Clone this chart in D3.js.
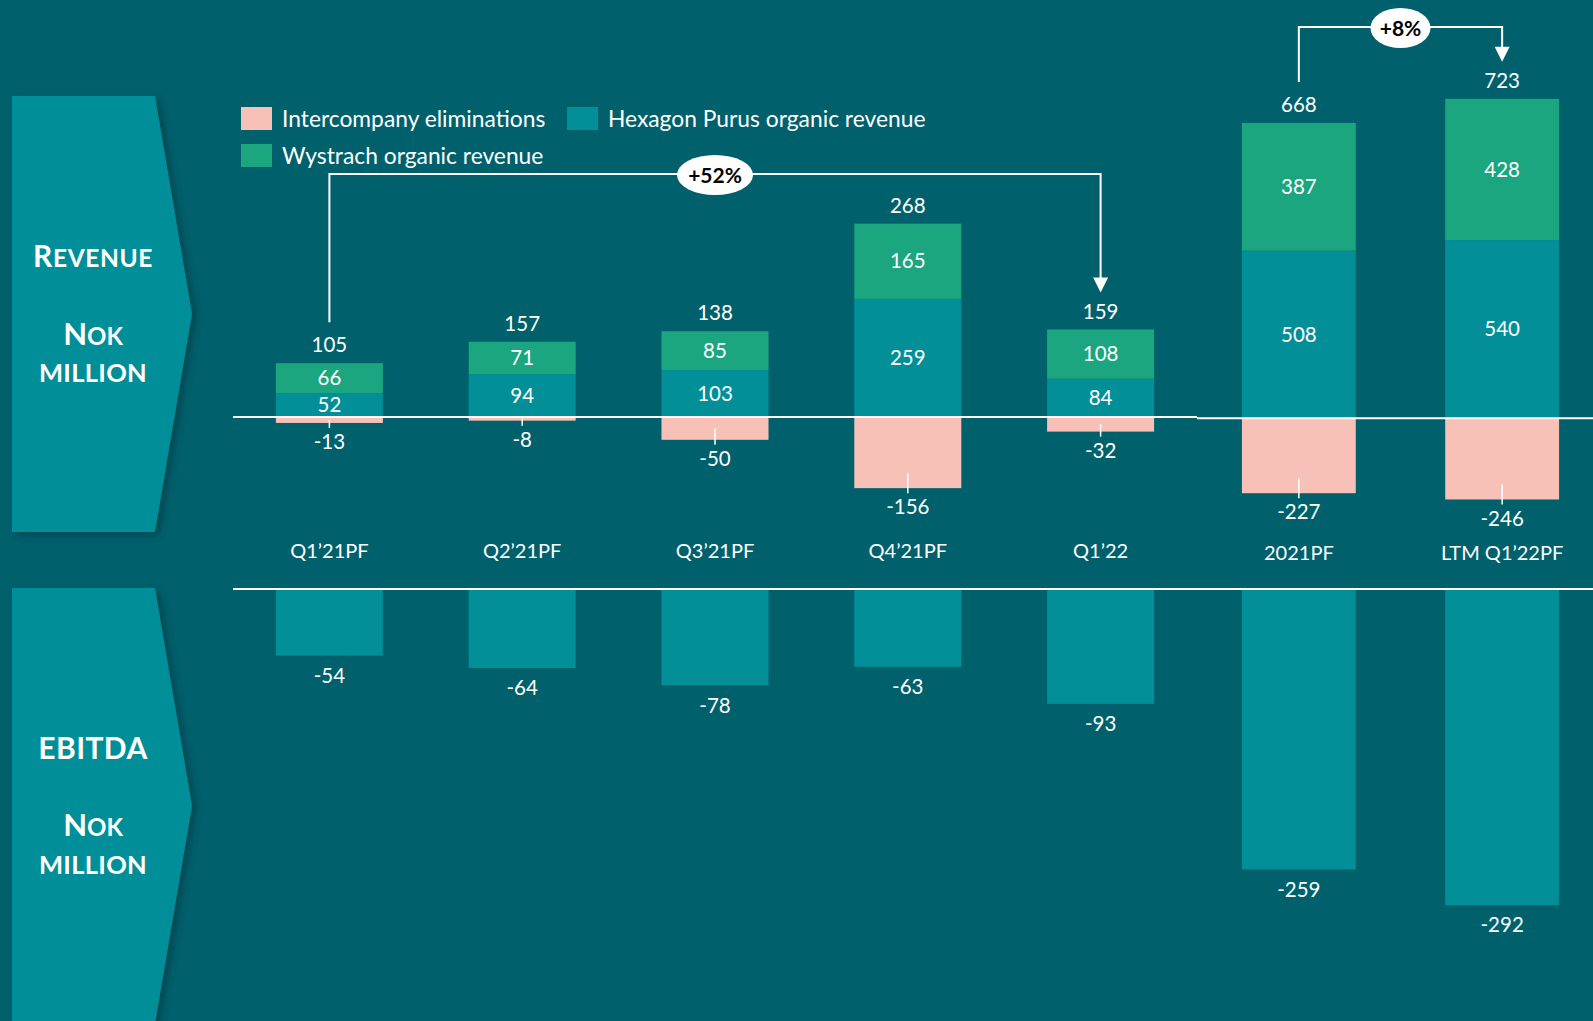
<!DOCTYPE html>
<html>
<head>
<meta charset="utf-8">
<script src="https://cdn.jsdelivr.net/npm/d3@7/dist/d3.min.js"></script>
<style>
  html, body { margin: 0; padding: 0; background: #00616D; }
  svg { display: block; }
  text { font-family: Lato, "Open Sans", sans-serif; fill: #ffffff; }
</style>
</head>
<body>
<svg id="chart" width="1593" height="1021"></svg>
<script>
// ---------- DATA ----------
const quarterCategories = ["Q1’21PF", "Q2’21PF", "Q3’21PF", "Q4’21PF", "Q1’22"];
const annualCategories = ["2021PF", "LTM Q1’22PF"];
const categories = quarterCategories.concat(annualCategories);

const hexagonRevenue = [52, 94, 103, 259, 84, 508, 540];
const wystrachRevenue = [66, 71, 85, 165, 108, 387, 428];
const intercompanyElim = [-13, -8, -50, -156, -32, -227, -246];
const revenueTotals = [105, 157, 138, 268, 159, 668, 723];
const ebitdaValues = [-54, -64, -78, -63, -93, -259, -292];

const seriesNames = ["Intercompany eliminations", "Hexagon Purus organic revenue", "Wystrach organic revenue"];
const growthLabels = [
  { from: "Q1’21PF", to: "Q1’22", text: "+52%" },
  { from: "2021PF", to: "LTM Q1’22PF", text: "+8%" }
];

// ---------- STYLE ----------
const C = {
  bg: "#00616D",
  panel: "#038F98",
  hexagon: "#038F98",
  wystrach: "#1BA680",
  interco: "#F8C1B8",
  white: "#ffffff"
};

const svg = d3.select("#chart");
svg.append("rect").attr("width", 1593).attr("height", 1021).attr("fill", C.bg);

const defs = svg.append("defs");
const f = defs.append("filter").attr("id", "shadow").attr("x", "-20%").attr("y", "-20%").attr("width", "150%").attr("height", "150%");
f.append("feDropShadow").attr("dx", 4).attr("dy", 3).attr("stdDeviation", 4)
  .attr("flood-color", "#00303a").attr("flood-opacity", 0.55);

// ---------- SCALES ----------
const xQ = d3.scaleBand().domain(quarterCategories).range([233, 1197]).paddingInner(0.445).paddingOuter(0.2225);
const xA = d3.scaleBand().domain(annualCategories).range([1197, 1604]).paddingInner(0.44).paddingOuter(0.221);
const isAnnual = c => annualCategories.includes(c);
const xs = c => isAnnual(c) ? xA : xQ;
const xLeft = c => xs(c)(c);
const bw = c => xs(c).bandwidth();
const xMid = c => xLeft(c) + bw(c) / 2;

const revBase = 417;
const revBaseA = 418.3;
const yRevQ = d3.scaleLinear().domain([0, 100]).range([revBase, revBase - 45.6]);
const yRevA = d3.scaleLinear().domain([0, 100]).range([revBaseA, revBaseA - 33.0]);
const yRev = c => isAnnual(c) ? yRevA : yRevQ;

const ebBase = 589;
const yEbQ = d3.scaleLinear().domain([0, -100]).range([ebBase, ebBase + 123.5]);
const yEbA = d3.scaleLinear().domain([0, -100]).range([ebBase, ebBase + 108.3]);
const yEb = c => isAnnual(c) ? yEbA : yEbQ;

// ---------- SIDE PANELS ----------
function panel(top, bottom) {
  const mid = (top + bottom) / 2;
  svg.append("polygon")
    .attr("points", [[12, top], [155, top], [192, mid], [155, bottom], [12, bottom]].map(p => p.join(",")).join(" "))
    .attr("fill", C.panel)
    .attr("filter", "url(#shadow)");
}
panel(96, 532);
panel(588, 1024);

function smallCapsLine(y, parts, ls) {
  const t = svg.append("text").attr("x", 93).attr("y", y).attr("text-anchor", "middle")
    .attr("font-weight", 700).attr("letter-spacing", ls || 0);
  parts.forEach(p => t.append("tspan").attr("font-size", p[1]).text(p[0]));
}
smallCapsLine(267, [["R", 30], ["EVENUE", 24.5]], 0.6);
smallCapsLine(345, [["N", 31], ["OK", 24]]);
smallCapsLine(382, [["MILLION", 25.5]], 0.3);
smallCapsLine(759, [["EBITDA", 30]], 0.4);
smallCapsLine(836, [["N", 31], ["OK", 24]]);
smallCapsLine(874, [["MILLION", 25.5]], 0.3);

// ---------- LEGEND ----------
const legendItems = [
  { name: seriesNames[0], color: C.interco, x: 241, y: 107 },
  { name: seriesNames[1], color: C.hexagon, x: 567, y: 107 },
  { name: seriesNames[2], color: C.wystrach, x: 241, y: 144 }
];
const lg = svg.append("g");
legendItems.forEach(d => {
  lg.append("rect").attr("x", d.x).attr("y", d.y).attr("width", 31).attr("height", 23).attr("fill", d.color);
  lg.append("text").attr("x", d.x + 41).attr("y", d.y + 12).attr("dy", "0.35em")
    .attr("font-size", 22.8).text(d.name);
});

// ---------- REVENUE BARS ----------
const revData = categories.map((c, i) => ({
  c, hex: hexagonRevenue[i], wys: wystrachRevenue[i], ic: intercompanyElim[i], total: revenueTotals[i], eb: ebitdaValues[i]
}));

const gRev = svg.append("g");
revData.forEach(d => {
  const y = yRev(d.c);
  const x = xLeft(d.c), w = bw(d.c);
  gRev.append("rect").attr("x", x).attr("width", w)
    .attr("y", y(0)).attr("height", y(d.ic) - y(0)).attr("fill", C.interco);
  gRev.append("rect").attr("x", x).attr("width", w)
    .attr("y", y(d.hex)).attr("height", y(0) - y(d.hex)).attr("fill", C.hexagon);
  gRev.append("rect").attr("x", x).attr("width", w)
    .attr("y", y(d.hex + d.wys)).attr("height", y(d.hex) - y(d.hex + d.wys)).attr("fill", C.wystrach);
});

// baseline (revenue)
svg.append("line").attr("x1", 233).attr("x2", 1197).attr("y1", revBase).attr("y2", revBase)
  .attr("stroke", C.white).attr("stroke-width", 2);
svg.append("line").attr("x1", 1197).attr("x2", 1593).attr("y1", revBaseA).attr("y2", revBaseA)
  .attr("stroke", C.white).attr("stroke-width", 2);

// revenue labels
const numSize = 20.5;
revData.forEach(d => {
  const y = yRev(d.c);
  const base = y(0);
  const cx = xMid(d.c);
  gRev.append("text").attr("x", cx).attr("y", (y(d.hex) + y(0)) / 2).attr("dy", "0.35em")
    .attr("text-anchor", "middle").attr("font-size", numSize).text(d.hex);
  gRev.append("text").attr("x", cx).attr("y", (y(d.hex) + y(d.hex + d.wys)) / 2).attr("dy", "0.35em")
    .attr("text-anchor", "middle").attr("font-size", numSize).text(d.wys);
  const top = y(d.hex + d.wys);
  gRev.append("text").attr("x", cx).attr("y", top - 18).attr("dy", "0.35em")
    .attr("text-anchor", "middle").attr("font-size", numSize).text(d.total);
  const bottom = y(d.ic);
  const tickTop = Math.max(bottom - 15, base + (bottom - base) / 2);
  gRev.append("line").attr("x1", cx).attr("x2", cx).attr("y1", tickTop).attr("y2", bottom + 5)
    .attr("stroke", C.white).attr("stroke-width", 1.5);
  gRev.append("text").attr("x", cx).attr("y", bottom + 19).attr("dy", "0.35em")
    .attr("text-anchor", "middle").attr("font-size", numSize).text(d.ic);
  gRev.append("text").attr("x", cx).attr("y", isAnnual(d.c) ? 553 : 551).attr("dy", "0.35em")
    .attr("text-anchor", "middle").attr("font-size", 20).text(d.c);
});

// ---------- EBITDA ----------
svg.append("line").attr("x1", 233).attr("x2", 1593).attr("y1", ebBase).attr("y2", ebBase)
  .attr("stroke", C.white).attr("stroke-width", 2);
const gEb = svg.append("g");
revData.forEach(d => {
  const y = yEb(d.c);
  gEb.append("rect").attr("x", xLeft(d.c)).attr("width", bw(d.c))
    .attr("y", ebBase + 1).attr("height", y(d.eb) - ebBase - 1).attr("fill", C.hexagon);
  gEb.append("text").attr("x", xMid(d.c)).attr("y", y(d.eb) + 20).attr("dy", "0.35em")
    .attr("text-anchor", "middle").attr("font-size", numSize).text(d.eb);
});

// ---------- GROWTH ARROWS ----------
const bracketY = [174, 27];
growthLabels.forEach((g, k) => {
  const i0 = categories.indexOf(g.from), i1 = categories.indexOf(g.to);
  const x0 = xMid(g.from), x1 = xMid(g.to);
  const yTop0 = yRev(g.from)(hexagonRevenue[i0] + wystrachRevenue[i0]) - 18;
  const yTop1 = yRev(g.to)(hexagonRevenue[i1] + wystrachRevenue[i1]) - 18;
  const by = bracketY[k];
  const tipY = yTop1 - 19;
  svg.append("path")
    .attr("d", `M${x0},${yTop0 - 23} L${x0},${by} L${x1},${by} L${x1},${tipY - 12}`)
    .attr("fill", "none").attr("stroke", C.white).attr("stroke-width", 2);
  svg.append("path")
    .attr("d", `M${x1 - 7.5},${tipY - 15} L${x1 + 7.5},${tipY - 15} L${x1},${tipY} Z`)
    .attr("fill", C.white);
  const mx = (x0 + x1) / 2;
  const rx = k === 0 ? 38 : 30;
  svg.append("ellipse").attr("cx", mx).attr("cy", by + 1).attr("rx", rx).attr("ry", 20).attr("fill", C.white);
  svg.append("text").attr("x", mx).attr("y", by + 1).attr("dy", "0.36em")
    .attr("text-anchor", "middle").attr("font-size", 21).attr("font-weight", 700)
    .style("fill", "#000").text(g.text);
});
</script>
</body>
</html>
